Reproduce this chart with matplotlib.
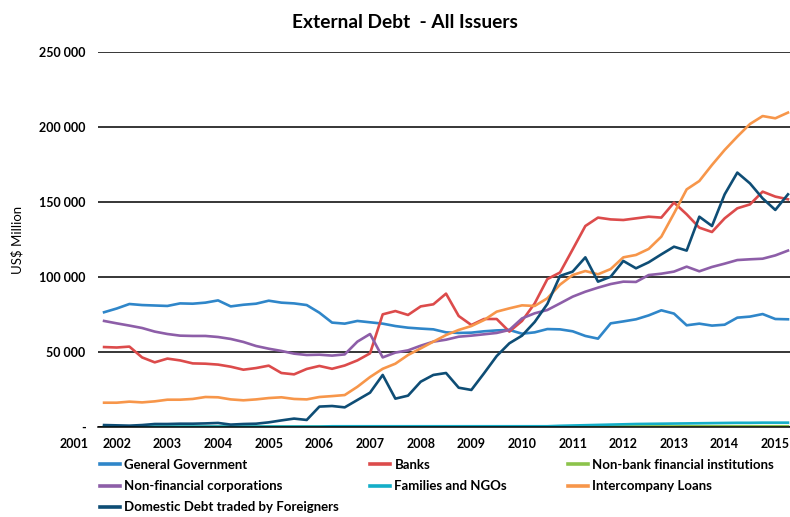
import numpy as np
import matplotlib
matplotlib.use("Agg")
import matplotlib.pyplot as plt
from matplotlib.lines import Line2D
from matplotlib.ticker import FuncFormatter

plt.rcParams['font.family'] = ['Lato', 'DejaVu Sans']

# quarterly observations, 2001Q4 .. 2015Q2 (US$ million)
start_year = 2001.75
year_labels = [str(y) for y in range(2002, 2016)]

general_gov = [76.5, 79, 82, 81.3, 81, 80.7, 82.4, 82.2, 82.9, 84.4, 80.4, 81.5, 82.2, 84.2,
               82.9, 82.4, 81.3, 76.2, 69.6, 68.9, 70.7, 69.8, 68.9, 67.3, 66.2, 65.6, 65.1,
               63.1, 62.7, 62.9, 63.8, 64.4, 64.7, 62.2, 63.1, 65.3, 65.1, 63.8, 60.7, 58.9,
               69.1, 70.4, 71.8, 74.4, 77.8, 75.6, 67.8, 68.9, 67.6, 68.2, 72.9, 73.6, 75.3,
               72.0, 71.8]
banks = [53.3, 53.0, 53.6, 46.4, 43.1, 45.6, 44.4, 42.4, 42.2, 41.6, 40.2, 38.2, 39.3, 40.9,
         36.0, 35.1, 38.7, 40.7, 38.8, 41.0, 44.4, 49.1, 75.1, 77.3, 74.7, 80.4, 81.8, 88.9,
         74.0, 68.0, 72.0, 72.0, 63.6, 70.7, 82.4, 98.6, 103.0, 118.4, 134.0, 139.6, 138.4,
         138.0, 139.1, 140.2, 139.6, 149.6, 141.8, 132.9, 130.0, 139.1, 145.8, 148.4, 156.9,
         153.6, 151.8]
nonbank_fin = [0.2] * 28 + [0.3] * 10 + [0.4] * 8 + [0.5] * 9
nonfin_corp = [70.7, 69.1, 67.6, 66.0, 63.6, 62.0, 60.9, 60.7, 60.7, 60.0, 58.7, 56.7, 54.0,
               52.2, 50.7, 48.9, 48.0, 48.2, 47.6, 48.4, 56.9, 62.0, 46.4, 49.6, 51.1, 54.2,
               56.9, 58.2, 60.2, 60.9, 61.8, 62.7, 64.7, 72.4, 75.8, 78.0, 82.4, 86.9, 90.2,
               92.9, 95.3, 96.9, 96.7, 101.3, 102.2, 103.6, 106.9, 103.8, 106.7, 108.9, 111.3,
               111.8, 112.2, 114.4, 117.6]
families_ngo = [0.3] * 18 + [0.5] * 18 + [0.8, 1.0, 1.2, 1.4, 1.6, 1.8, 2.0, 2.1, 2.2, 2.3,
                                          2.4, 2.5, 2.6, 2.7, 2.8, 2.8, 2.9, 2.9, 2.9]
intercompany = [16.2, 16.2, 16.9, 16.4, 17.1, 18.2, 18.2, 18.7, 20.0, 19.8, 18.4, 17.8, 18.4,
                19.3, 19.8, 18.7, 18.4, 20.0, 20.6, 21.3, 26.8, 33.3, 38.8, 42.2, 48.0, 52.4,
                56.9, 61.3, 64.7, 67.3, 71.3, 76.9, 79.1, 81.1, 80.7, 85.8, 94.9, 101.3, 104.0,
                101.8, 105.3, 113.1, 114.7, 118.7, 126.9, 142.4, 158.4, 164.0, 174.7, 184.7,
                193.6, 202.0, 207.3, 205.8, 209.6]
domestic_foreign = [1.3, 1.1, 0.9, 1.3, 2.0, 2.0, 2.2, 2.2, 2.4, 2.7, 1.6, 2.0, 2.2, 3.1, 4.4,
                    5.6, 4.7, 13.6, 14.0, 13.1, 18.0, 22.9, 34.7, 18.9, 20.9, 30.2, 34.7, 36.0,
                    26.2, 24.7, 35.8, 47.3, 55.8, 60.9, 70.0, 82.0, 100.7, 103.6, 113.1, 96.9,
                    100.2, 110.7, 105.8, 109.8, 115.1, 120.2, 117.6, 140.2, 134.0, 155.1, 169.6,
                    162.4, 152.4, 144.7, 155.1]

series = [
    ("General Government", general_gov, "#2f86c9"),
    ("Banks", banks, "#dc4b4b"),
    ("Non-bank financial institutions", nonbank_fin, "#8cc34b"),
    ("Non-financial corporations", nonfin_corp, "#8d5ea8"),
    ("Families and NGOs", families_ngo, "#14aec8"),
    ("Intercompany Loans", intercompany, "#f7964a"),
    ("Domestic Debt traded by Foreigners", domestic_foreign, "#0e4d75"),
]

n = len(general_gov)
x = start_year + 0.25 * np.arange(n)

fig = plt.figure(figsize=(7.9, 5.17), dpi=100)
ax = fig.add_axes([98 / 790, 90 / 517, 692 / 790, 375 / 517])

handles = {}
for name, vals, col in series:
    h, = ax.plot(x, np.array(vals) * 1000, color=col, lw=1.9, solid_joinstyle='round')
    handles[name] = h

ax.set_xlim(start_year - 0.12, x[-1] + 0.04)
ax.set_ylim(0, 250000)
ax.set_yticks(np.arange(0, 250001, 50000))
ax.yaxis.set_major_formatter(FuncFormatter(
    lambda v, p: "-" if v == 0 else "{:,.0f}".format(v).replace(",", " ")))
ax.grid(axis='y', color='black', lw=1.1)
ax.set_axisbelow(True)
for s in ['left', 'right', 'top']:
    ax.spines[s].set_visible(False)
ax.spines['bottom'].set_color('black')
ax.spines['bottom'].set_linewidth(1.1)

ax.set_xticks(np.arange(2002, 2016))
ax.set_xticklabels(year_labels)
ax.tick_params(axis='both', length=0, labelsize=9)
ax.tick_params(axis='y', pad=9)
ax.tick_params(axis='x', pad=8)
for lab in ax.get_xticklabels() + ax.get_yticklabels():
    lab.set_fontweight('bold')
ax.annotate("2001", xy=(2001.15, 0), xycoords=('data', 'axes fraction'),
            xytext=(0, -8), textcoords='offset points', ha='center', va='top',
            fontsize=9, fontweight='bold', annotation_clip=False)

ax.set_ylabel("US$ Million", fontsize=9.5)
ax.yaxis.set_label_coords(-0.107, 0.5)

fig.text(405 / 790, 1 - 22 / 517, "External Debt  - All Issuers", ha='center', va='center',
         fontsize=13.8, fontweight='bold')

cols = [["General Government", "Non-financial corporations", "Domestic Debt traded by Foreigners"],
        ["Banks", "Families and NGOs"],
        ["Non-bank financial institutions", "Intercompany Loans"]]
col_x = [100, 370, 568]
for names, cx in zip(cols, col_x):
    hs = [Line2D([], [], color=handles[nm].get_color(), lw=2.6) for nm in names]
    leg = fig.legend(hs, names, loc='upper left', bbox_to_anchor=(cx / 790, 1 - 459 / 517),
                     frameon=False, fontsize=9.5, handlelength=1.5, handletextpad=0.35,
                     labelspacing=0.7, borderpad=0, borderaxespad=0)
    for t in leg.get_texts():
        t.set_fontweight('bold')

fig.savefig("out.png", dpi=100)
